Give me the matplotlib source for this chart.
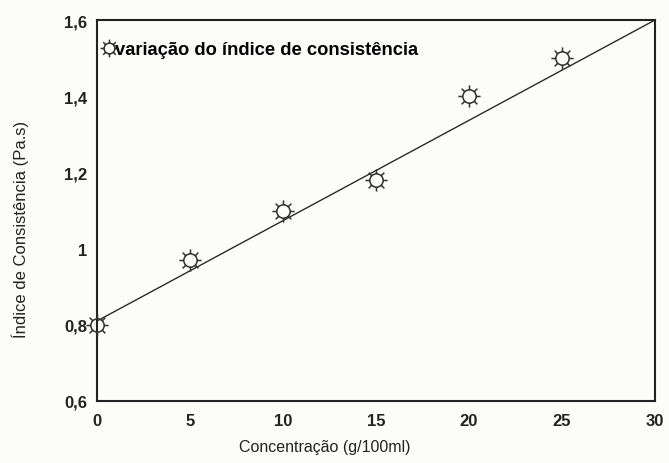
import numpy as np
import matplotlib
matplotlib.use("Agg")
import matplotlib.pyplot as plt
from matplotlib.path import Path
from matplotlib.ticker import FuncFormatter

plt.rcParams['font.family'] = ['Liberation Sans', 'DejaVu Sans']

# Measured consistency index against concentration
concentration = [0, 5, 10, 15, 20, 25]
consistency = [0.80, 0.97, 1.10, 1.18, 1.40, 1.50]

# Linear trend line endpoints
trend_x = [0, 30]
trend_y = [0.81, 1.60]

x_ticks = [0, 5, 10, 15, 20, 25, 30]
y_ticks = [0.6, 0.8, 1.0, 1.2, 1.4, 1.6]


def sun_marker(n_spokes=8, r=0.6, spoke_in=0.6, spoke_out=1.0):
    """Open circle with short radial spokes."""
    circle = Path.unit_circle()
    verts = list(circle.vertices * r)
    codes = list(circle.codes)
    for k in range(n_spokes):
        a = 2 * np.pi * k / n_spokes
        verts += [(spoke_in * np.cos(a), spoke_in * np.sin(a)),
                  (spoke_out * np.cos(a), spoke_out * np.sin(a))]
        codes += [Path.MOVETO, Path.LINETO]
    return Path(verts, codes)


marker = sun_marker()

fig = plt.figure(figsize=(6.69, 4.64), dpi=100)
fig.patch.set_facecolor('#fcfcf8')
ax = fig.add_axes([97 / 669, 62 / 464, 558 / 669, 381 / 464])
ax.set_facecolor('#fcfcf8')

ax.plot(trend_x, trend_y, color='#2a2a2a', lw=1.0, zorder=2)
ax.plot(concentration, consistency, linestyle='none', marker=marker,
        markersize=16, markerfacecolor='none', markeredgecolor='#333333',
        markeredgewidth=1.1, clip_on=False, zorder=3,
        label='variação do índice de consistência')

ax.set_xlim(0, 30)
ax.set_ylim(0.6, 1.6)
ax.set_xticks(x_ticks)
ax.set_yticks(y_ticks)

fmt = FuncFormatter(lambda v, p: ('%g' % v).replace('.', ','))
ax.yaxis.set_major_formatter(fmt)
ax.tick_params(length=0, labelsize=12, colors='#222222')
ax.tick_params(axis='y', pad=7)
ax.tick_params(axis='x', pad=9)
for lab in ax.get_xticklabels() + ax.get_yticklabels():
    lab.set_fontweight('bold')

for s in ax.spines.values():
    s.set_linewidth(1.5)
    s.set_color('#222222')

ax.set_xlabel('Concentração (g/100ml)', fontsize=11.5, color='#222222')
ax.set_ylabel('Índice de Consistência (Pa.s)', fontsize=12, color='#222222')
ax.xaxis.set_label_coords(0.409, -0.10)
ax.yaxis.set_label_coords(-0.122, 0.454)

leg = ax.legend(loc='upper left', frameon=False, handlelength=0.6,
                handletextpad=0.05, bbox_to_anchor=(-0.012, 0.978),
                borderaxespad=0.3, markerscale=0.8,
                prop={'size': 13.2, 'weight': 'bold'})

fig.savefig('out.png', dpi=100, facecolor=fig.get_facecolor())
